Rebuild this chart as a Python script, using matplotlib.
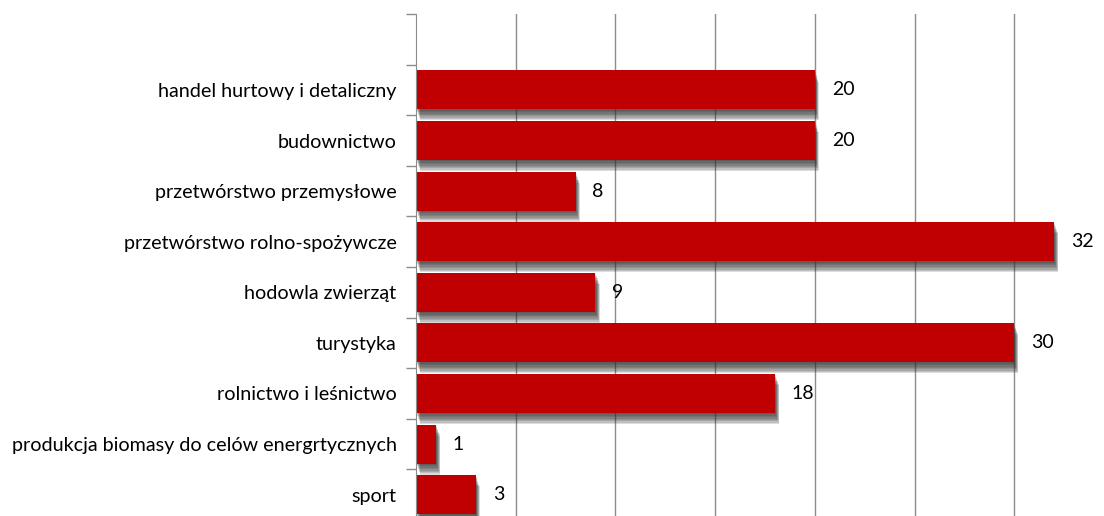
import matplotlib.pyplot as plt
import matplotlib.patheffects as pe

# data
categories = ['handel hurtowy i detaliczny', 'budownictwo', 'przetwórstwo przemysłowe',
              'przetwórstwo rolno-spożywcze', 'hodowla zwierząt', 'turystyka',
              'rolnictwo i leśnictwo', 'produkcja biomasy do celów energrtycznych', 'sport']
values = [20, 20, 8, 32, 9, 30, 18, 1, 3]

plt.rcParams['font.family'] = ['Lato', 'DejaVu Sans']

fig = plt.figure(figsize=(11.04, 5.16), dpi=100)
ax = fig.add_axes([416 / 1104, -4 / 516, 688 / 1104, 506 / 516])

ypos = list(range(len(categories)))

# soft drop shadow built from a few offset layers
shadow = [pe.SimplePatchShadow(offset=(0.5 + k * 0.35, -1 - k * 1.0), shadow_rgbFace='#303030', alpha=0.17)
          for k in range(8)]
bars = ax.barh(ypos, values, height=0.77, color='#C00000', zorder=3,
               path_effects=shadow + [pe.Normal()])

for y, v in zip(ypos, values):
    ax.text(v + 0.85, y, str(v), va='center', ha='left', fontsize=14, color='black', zorder=4)

ax.set_xlim(0, 34.5)
ax.set_ylim(8.5, -1.5)

for x in range(5, 35, 5):
    ax.axvline(x, color='#8c8c8c', linewidth=1, zorder=1)

ax.set_yticks(ypos)
ax.set_yticklabels(categories, fontsize=14.2)
ax.tick_params(axis='y', which='major', length=0, pad=14)
ax.set_yticks([i - 0.5 for i in range(-1, len(categories) + 1)], minor=True)
ax.tick_params(axis='y', which='minor', length=7, color='#8c8c8c', width=1)
ax.set_xticks([])

for side in ['top', 'right', 'bottom']:
    ax.spines[side].set_visible(False)
ax.spines['left'].set_color('#8c8c8c')
ax.spines['left'].set_zorder(5)

fig.savefig('out.png', dpi=100)
